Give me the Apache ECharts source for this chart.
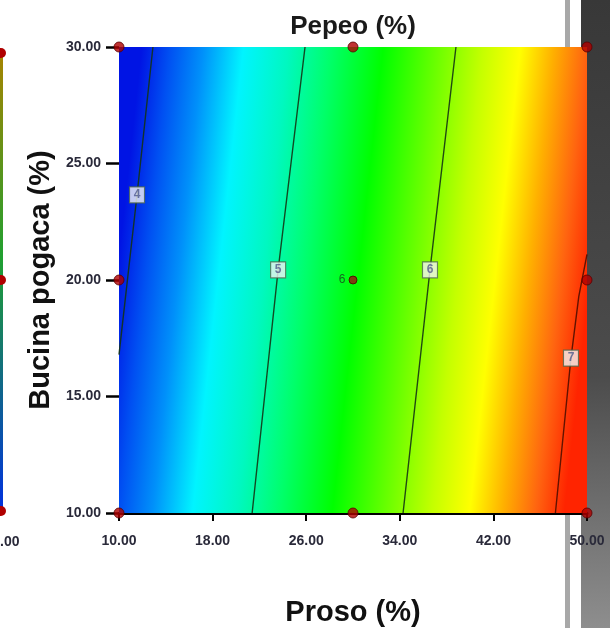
<!DOCTYPE html>
<html>
<head>
<meta charset="utf-8">
<script src="https://cdn.jsdelivr.net/npm/echarts@6/dist/echarts.min.js"></script>
<style>
  html, body { margin: 0; padding: 0; background: #ffffff; }
  #chart { width: 610px; height: 628px; }
</style>
</head>
<body>
<div id="chart"></div>
<script>
// Axis ranges and ticks
var prosoTicks = [10, 18, 26, 34, 42, 50];
var bucinaTicks = [10, 15, 20, 25, 30];

// Contour lines of Pepeo (%) : [Proso, Bucina pogaca] points along each level
var contourLevels = [4, 5, 6, 7];
var contour4 = [[12.9, 30], [11.54, 23.65], [10, 16.8]];
var contour5 = [[25.9, 30], [23.6, 20.43], [21.38, 10]];
var contour6 = [[38.8, 30], [36.58, 20.43], [34.28, 10]];
var contour7 = [[50, 21.1], [49.3, 19.3], [48.63, 16.65], [47.3, 10]];
var contourLines = [contour4, contour5, contour6, contour7];

// Where each contour carries its level label
var labelProso = [11.54, 23.6, 36.58, 48.63];
var labelBucina = [23.65, 20.43, 20.43, 16.65];

// Design points (factorial / axial) and the replicated centre point
var designProso = [10, 10, 10, 30, 30, 50, 50, 50];
var designBucina = [10, 20, 30, 10, 30, 10, 20, 30];
var centerPoint = [30, 20];
var centerReplicates = '6';

var FONT = '"Liberation Sans", Arial, sans-serif';

var chart = echarts.init(document.getElementById('chart'), null, { renderer: 'canvas' });

var fieldGradient = {
  type: 'linear', x: 0, y: 0.445, x2: 1, y2: 0.555,
  colorStops: [
    { offset: 0.00, color: '#0014e4' },
    { offset: 0.06, color: '#0050f2' },
    { offset: 0.13, color: '#0090fa' },
    { offset: 0.215, color: '#00f4ff' },
    { offset: 0.31, color: '#00f8c0' },
    { offset: 0.40, color: '#00ff6a' },
    { offset: 0.51, color: '#00ff00' },
    { offset: 0.62, color: '#66ff00' },
    { offset: 0.72, color: '#c4ff00' },
    { offset: 0.80, color: '#ffff00' },
    { offset: 0.87, color: '#ffb000' },
    { offset: 0.94, color: '#ff6410' },
    { offset: 1.00, color: '#ff2400' }
  ]
};

var series = [];

// Coloured response surface
series.push({
  type: 'line',
  data: [],
  silent: true,
  z: 1,
  markArea: {
    silent: true,
    itemStyle: { color: fieldGradient, borderWidth: 0 },
    data: [[
      { coord: [prosoTicks[0], bucinaTicks[0]] },
      { coord: [prosoTicks[prosoTicks.length - 1], bucinaTicks[bucinaTicks.length - 1]] }
    ]]
  }
});

// Contour lines
contourLines.forEach(function (pts, i) {
  series.push({
    type: 'line',
    name: 'level ' + contourLevels[i],
    data: pts,
    showSymbol: false,
    symbol: 'none',
    silent: true,
    z: 3,
    lineStyle: { color: i === 3 ? '#501000' : '#143414', width: 1.4, opacity: 0.9 }
  });
});

// Contour level labels
series.push({
  type: 'scatter',
  silent: true,
  z: 5,
  symbol: 'rect',
  symbolSize: [15, 16],
  itemStyle: { color: '#f4f4f4', borderColor: '#4e684e', borderWidth: 1.2 },
  label: {
    show: true,
    position: 'inside',
    color: '#505a8c',
    fontFamily: FONT,
    fontSize: 12,
    fontWeight: 'bold',
    formatter: function (p) { return String(contourLevels[p.dataIndex]); }
  },
  data: labelProso.map(function (x, i) { return [x, labelBucina[i]]; })
});

// Design points
series.push({
  type: 'scatter',
  silent: true,
  z: 6,
  clip: false,
  symbol: 'circle',
  symbolSize: 10,
  itemStyle: { color: '#b00000', borderColor: '#5a0000', borderWidth: 1 },
  data: designProso.map(function (x, i) { return [x, designBucina[i]]; })
});

// Centre point with number of replicates
series.push({
  type: 'scatter',
  silent: true,
  z: 6,
  symbol: 'circle',
  symbolSize: 8,
  itemStyle: { color: '#9a1010', borderColor: '#4a0000', borderWidth: 1 },
  label: {
    show: true,
    position: 'left',
    distance: 3,
    color: '#1c3c1c',
    fontFamily: FONT,
    fontSize: 12,
    formatter: centerReplicates
  },
  data: [centerPoint]
});

var option = {
  backgroundColor: '#ffffff',
  animation: false,
  graphic: [
    // neighbouring panel edge and strip on the right
    { type: 'rect', z: -10, shape: { x: 565, y: 0, width: 5, height: 628 },
      style: { fill: '#a8a8a8' } },
    { type: 'rect', z: -10, shape: { x: 581, y: 0, width: 29, height: 628 },
      style: { fill: { type: 'linear', x: 0, y: 0, x2: 0, y2: 1, colorStops: [
        { offset: 0, color: '#383838' }, { offset: 0.6, color: '#4c4c4c' }, { offset: 1, color: '#8e8e8e' }] } } },
    { type: 'rect', z: -10, shape: { x: 0, y: 50, width: 3, height: 462 },
      style: { fill: { type: 'linear', x: 0, y: 0, x2: 0, y2: 1, colorStops: [
        { offset: 0, color: '#a88400' }, { offset: 0.45, color: '#20a030' }, { offset: 1, color: '#0030e0' }] } } },
    { type: 'circle', z: -9, shape: { cx: 1, cy: 53, r: 5 }, style: { fill: '#b00000' } },
    { type: 'circle', z: -9, shape: { cx: 1, cy: 280, r: 5 }, style: { fill: '#b00000' } },
    { type: 'circle', z: -9, shape: { cx: 1, cy: 511, r: 5 }, style: { fill: '#b00000' } },
    { type: 'text', z: -9, style: { x: 0, y: 535, text: '.00', fill: '#2a2a3a',
      font: 'bold 14px "Liberation Sans", Arial, sans-serif' } }
  ],
  grid: { left: 119, right: 23, top: 47, bottom: 115, containLabel: false, outerBoundsMode: 'none' },
  xAxis: [{
    type: 'value',
    min: prosoTicks[0], max: prosoTicks[prosoTicks.length - 1], interval: 8,
    name: 'Proso (%)',
    nameLocation: 'middle',
    nameGap: 85,
    nameTextStyle: { fontFamily: FONT, fontSize: 29, fontWeight: 'bold', color: '#111111' },
    axisLine: { show: true, onZero: false, lineStyle: { color: '#000000', width: 3 } },
    axisTick: { show: true, length: 8, lineStyle: { color: '#000000', width: 2 } },
    axisLabel: {
      margin: 21, fontFamily: FONT, fontSize: 14, fontWeight: 'bold', color: '#2a2a3a',
      formatter: function (v) { return v.toFixed(2); }
    },
    splitLine: { show: false }
  }, {
    type: 'value',
    position: 'top',
    min: prosoTicks[0], max: prosoTicks[prosoTicks.length - 1],
    name: 'Pepeo (%)',
    nameLocation: 'middle',
    nameGap: 7,
    nameTextStyle: { fontFamily: FONT, fontSize: 26, fontWeight: 'bold', color: '#1a1a1a' },
    axisLine: { show: true, lineStyle: { color: '#505050', width: 1 } },
    axisTick: { show: false },
    axisLabel: { show: false },
    splitLine: { show: false }
  }],
  yAxis: {
    type: 'value',
    min: bucinaTicks[0], max: bucinaTicks[bucinaTicks.length - 1], interval: 5,
    name: 'Bucina pogaca (%)',
    nameLocation: 'middle',
    nameGap: 62,
    nameTextStyle: { fontFamily: FONT, fontSize: 29, fontWeight: 'bold', color: '#111111' },
    axisLine: { show: false },
    axisTick: { show: true, length: 13, lineStyle: { color: '#000000', width: 2.5 } },
    axisLabel: {
      margin: 18, fontFamily: FONT, fontSize: 14, fontWeight: 'bold', color: '#2a2a3a',
      formatter: function (v) { return v.toFixed(2); }
    },
    splitLine: { show: false }
  },
  series: series
};

chart.setOption(option);
</script>
</body>
</html>
